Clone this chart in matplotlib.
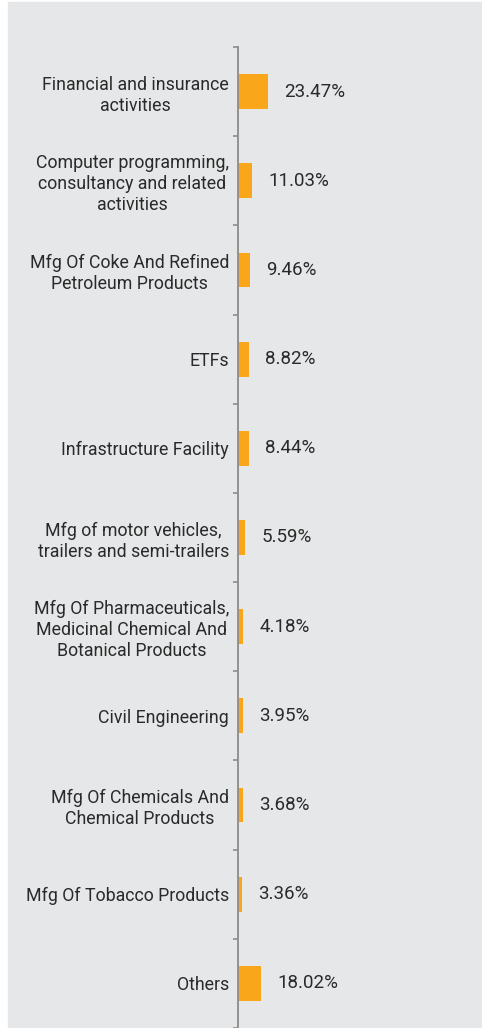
import matplotlib.pyplot as plt
from matplotlib.patches import Rectangle
import numpy as np

categories = ['Financial and insurance\nactivities',
              'Computer programming,\nconsultancy and related\nactivities',
              'Mfg Of Coke And Refined\nPetroleum Products',
              'ETFs',
              'Infrastructure Facility',
              'Mfg of motor vehicles,\ntrailers and semi-trailers',
              'Mfg Of Pharmaceuticals,\nMedicinal Chemical And\nBotanical Products',
              'Civil Engineering',
              'Mfg Of Chemicals And\nChemical Products',
              'Mfg Of Tobacco Products',
              'Others']
values = [23.47, 11.03, 9.46, 8.82, 8.44, 5.59, 4.18, 3.95, 3.68, 3.36, 18.02]
value_labels = ['23.47%', '11.03%', '9.46%', '8.82%', '8.44%', '5.59%',
                '4.18%', '3.95%', '3.68%', '3.36%', '18.02%']

plt.rcParams['font.family'] = ['Roboto', 'DejaVu Sans']
bg = '#e6e7e8'
bar_color = '#f9a61b'
axis_color = '#8c8c8c'
text_color = '#2a2a2a'
fs = 12.8

W, H = 482, 1028
fig = plt.figure(figsize=(W / 100, H / 100), dpi=100)
fig.patch.set_facecolor('white')
fig.patches.append(Rectangle((8 / W, 0), 1 - 8 / W, 1 - 2 / H,
                             transform=fig.transFigure, color=bg, zorder=-5))

ax = fig.add_axes([238 / W, 0, 1 - 238 / W, 1 - 47 / H])
ax.set_facecolor('none')

y = np.arange(len(values))
ax.barh(y, values, height=0.39, color=bar_color, zorder=2)
ax.set_ylim(len(values) - 0.5, -0.5)
ax.set_xlim(0, 190)

for yi, v, lab in zip(y, values, value_labels):
    ax.annotate(lab, (v, yi), xytext=(16, 0), textcoords='offset pixels',
                va='center', ha='left', fontsize=fs + 0.7, color=text_color)

ax.set_yticks(y)
ax.set_yticklabels(categories, fontsize=fs, color=text_color,
                   multialignment='center', linespacing=1.22)
ax.tick_params(axis='y', which='major', length=0, pad=6.5)
ax.set_yticks(np.arange(len(values) + 1) - 0.5, minor=True)
ax.tick_params(axis='y', which='minor', length=3.5, width=1.2,
               color=axis_color, direction='out')

ax.set_xticks([])
for s in ['top', 'right', 'bottom']:
    ax.spines[s].set_visible(False)
ax.spines['left'].set_color(axis_color)
ax.spines['left'].set_linewidth(1.3)

fig.savefig('out.png', dpi=100)
